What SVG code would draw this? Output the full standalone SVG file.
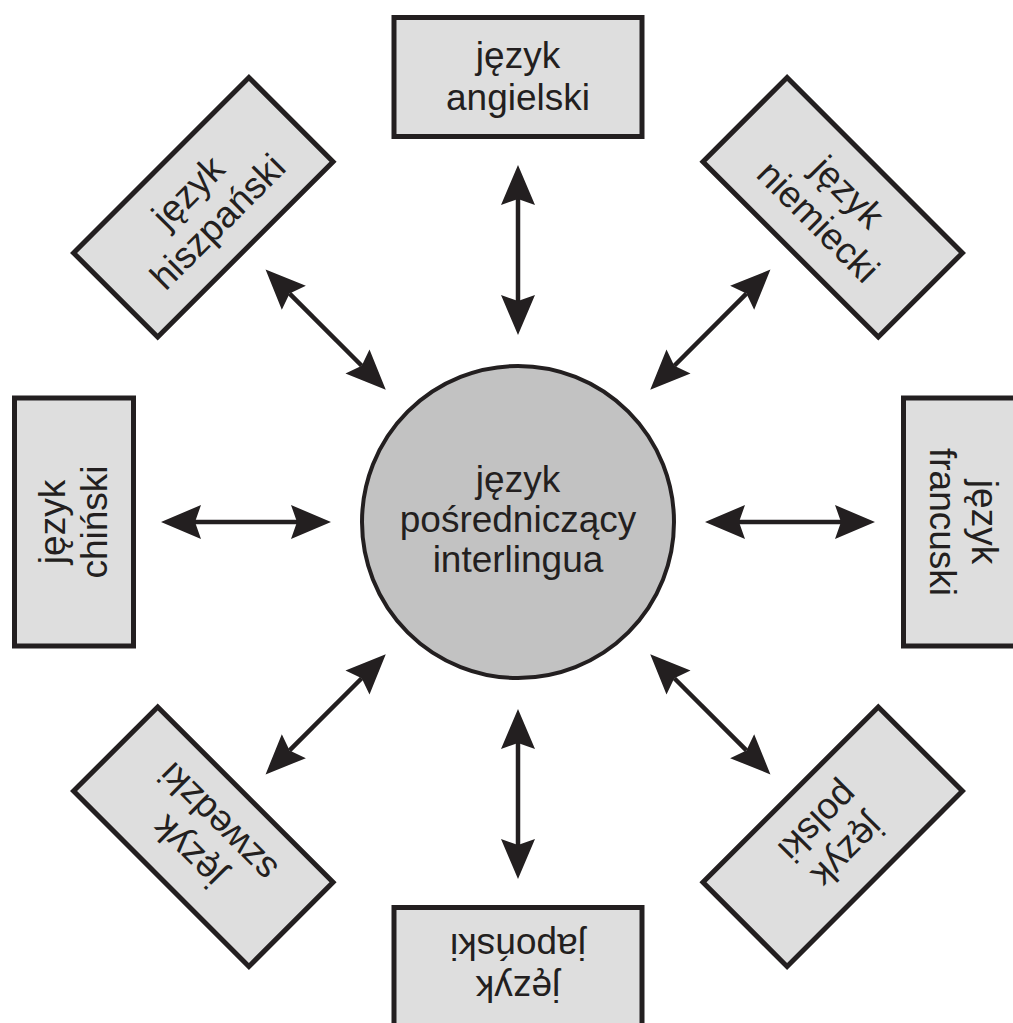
<svg xmlns="http://www.w3.org/2000/svg" width="1013" height="1023" viewBox="0 0 1013 1023">
<style>
.box{fill:#dedede;stroke:#231f20;stroke-width:5}
.hub{fill:#c2c2c2;stroke:#231f20;stroke-width:4}
.t{font-family:"Liberation Sans",Arial,sans-serif;font-size:37px;fill:#231f20;text-anchor:middle}
.arr{stroke:#231f20;stroke-width:4.5;fill:none;marker-start:url(#ah);marker-end:url(#ah)}
</style>
<defs>
<marker id="ah" markerUnits="userSpaceOnUse" markerWidth="42" markerHeight="36" viewBox="0 0 42 36" refX="7" refY="18" orient="auto-start-reverse">
<path d="M1,1 L41,18 L1,35 L7,18 Z" fill="#231f20"/>
</marker>
</defs>
<rect width="1013" height="1023" fill="#ffffff"/>
<g id="connectors">
<line class="arr" x1="739" y1="522" x2="841" y2="522" transform="rotate(-90 518 522)"/>
<line class="arr" x1="739" y1="522" x2="841" y2="522" transform="rotate(-45 518 522)"/>
<line class="arr" x1="739" y1="522" x2="841" y2="522"/>
<line class="arr" x1="739" y1="522" x2="841" y2="522" transform="rotate(45 518 522)"/>
<line class="arr" x1="739" y1="522" x2="841" y2="522" transform="rotate(90 518 522)"/>
<line class="arr" x1="739" y1="522" x2="841" y2="522" transform="rotate(135 518 522)"/>
<line class="arr" x1="739" y1="522" x2="841" y2="522" transform="rotate(180 518 522)"/>
<line class="arr" x1="739" y1="522" x2="841" y2="522" transform="rotate(-135 518 522)"/>
</g>
<g id="hub">
<circle class="hub" cx="518" cy="522" r="156"/>
<text class="t" x="518" y="492">język</text>
<text class="t" x="518" y="532">pośredniczący</text>
<text class="t" x="518" y="572">interlingua</text>
</g>
<g id="angielski" transform="translate(518 77)">
<rect class="box" x="-124" y="-59.5" width="248" height="119"/>
<text class="t" x="0" y="-9">język</text>
<text class="t" x="0" y="33">angielski</text>
</g>
<g id="niemiecki" transform="translate(832.7 207.3) rotate(45)">
<rect class="box" x="-124" y="-59.5" width="248" height="119"/>
<text class="t" x="0" y="-9">język</text>
<text class="t" x="0" y="33">niemiecki</text>
</g>
<g id="francuski" transform="translate(963 522) rotate(90)">
<rect class="box" x="-124" y="-59.5" width="248" height="119"/>
<text class="t" x="0" y="-9">język</text>
<text class="t" x="0" y="33">francuski</text>
</g>
<g id="polski" transform="translate(832.7 836.7) rotate(135)">
<rect class="box" x="-124" y="-59.5" width="248" height="119"/>
<text class="t" x="0" y="-9">język</text>
<text class="t" x="0" y="33">polski</text>
</g>
<g id="japonski" transform="translate(518 967) rotate(180)">
<rect class="box" x="-124" y="-59.5" width="248" height="119"/>
<text class="t" x="0" y="-9">język</text>
<text class="t" x="0" y="33">japoński</text>
</g>
<g id="szwedzki" transform="translate(203.3 836.7) rotate(-135)">
<rect class="box" x="-124" y="-59.5" width="248" height="119"/>
<text class="t" x="0" y="-9">język</text>
<text class="t" x="0" y="33">szwedzki</text>
</g>
<g id="chinski" transform="translate(74 522) rotate(-90)">
<rect class="box" x="-124" y="-59.5" width="248" height="119"/>
<text class="t" x="0" y="-9">język</text>
<text class="t" x="0" y="33">chiński</text>
</g>
<g id="hiszpanski" transform="translate(203.3 207.3) rotate(-45)">
<rect class="box" x="-124" y="-59.5" width="248" height="119"/>
<text class="t" x="0" y="-9">język</text>
<text class="t" x="0" y="33">hiszpański</text>
</g>
</svg>
